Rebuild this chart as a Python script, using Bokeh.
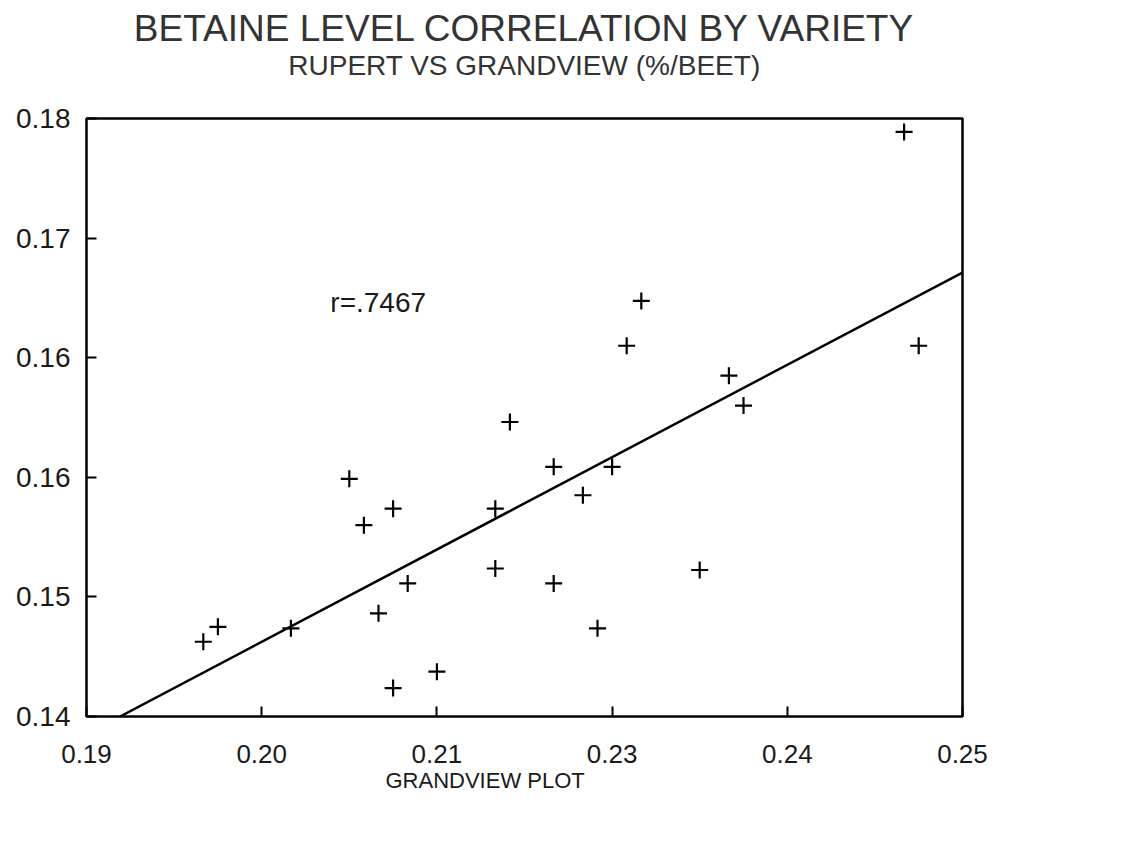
from bokeh.plotting import figure
from bokeh.models import Range1d, FixedTicker, PrintfTickFormatter, Label, Title, ColumnDataSource
from bokeh.embed import file_html
from bokeh.resources import INLINE

# ---- text ----
title_text = "BETAINE LEVEL CORRELATION BY VARIETY"
subtitle_text = "RUPERT VS GRANDVIEW (%/BEET)"
x_title_text = "GRANDVIEW PLOT"
r_text = "r=.7467"

# ---- data ----
grandview = [0.198, 0.199, 0.204, 0.208, 0.209, 0.210, 0.211, 0.211, 0.212, 0.214,
             0.218, 0.218, 0.219, 0.222, 0.222, 0.224, 0.225, 0.226, 0.227, 0.228,
             0.232, 0.234, 0.235, 0.246, 0.247]
rupert = [0.1450, 0.1460, 0.1459, 0.1559, 0.1528, 0.1469, 0.1539, 0.1419, 0.1489, 0.1430,
          0.1539, 0.1499, 0.1597, 0.1567, 0.1489, 0.1548, 0.1459, 0.1567, 0.1648, 0.1678,
          0.1498, 0.1628, 0.1608, 0.1791, 0.1648]

# regression line end points
fit_x = [0.1923, 0.25]
fit_y = [0.14, 0.1697]

# axes
x_ticks = [0.19, 0.202, 0.214, 0.226, 0.238, 0.25]
x_tick_labels = ["0.19", "0.20", "0.21", "0.23", "0.24", "0.25"]
y_ticks = [0.14, 0.148, 0.156, 0.164, 0.172, 0.18]
y_tick_labels = ["0.14", "0.15", "0.16", "0.16", "0.17", "0.18"]
x_lo, x_hi = 0.19, 0.25
y_lo, y_hi = 0.14, 0.18

FONT = "Liberation Sans"
INK = "#1a1a1a"

p = figure(frame_width=876, frame_height=598,
           x_range=Range1d(x_lo, x_hi), y_range=Range1d(y_lo, y_hi),
           output_backend="svg", toolbar_location=None,
           min_border_left=86, min_border_right=40,
           min_border_top=118, min_border_bottom=20)

p.background_fill_color = "white"
p.border_fill_color = "white"
p.outline_line_color = "black"
p.outline_line_width = 2.5
p.outline_line_alpha = 1.0
p.grid.visible = False

for ax, ticks, labels, size in ((p.xaxis[0], x_ticks, x_tick_labels, "26px"),
                                (p.yaxis[0], y_ticks, y_tick_labels, "28px")):
    ax.ticker = FixedTicker(ticks=ticks)
    ax.formatter = PrintfTickFormatter(format="%.2f")
    ax.major_label_overrides = {t: l for t, l in zip(ticks, labels)}
    ax.axis_line_color = None
    ax.major_tick_in = 10
    ax.major_tick_out = 0
    ax.major_tick_line_color = "black"
    ax.major_tick_line_width = 2
    ax.minor_tick_line_color = None
    ax.major_label_text_font = FONT
    ax.major_label_text_font_size = size
    ax.major_label_text_color = INK

p.xaxis[0].major_label_standoff = 28
p.yaxis[0].major_label_standoff = 16

src = ColumnDataSource(dict(x=grandview, y=rupert))
p.line(fit_x, fit_y, line_color="black", line_width=2.5)
p.scatter("x", "y", source=src, marker="cross", size=17,
          line_color="black", line_width=2.2)

# titles: subtitle first (closest to the frame), with an empty second line
# that keeps the gap below it; then the main title on top
p.add_layout(Title(text=subtitle_text + "\n\u00a0", align="center", text_font=FONT,
                   text_font_size="28px", text_font_style="normal",
                   text_line_height=1.2,
                   text_color="#333333", standoff=0), "above")
p.add_layout(Title(text=title_text, align="center", text_font=FONT,
                   text_font_size="37px", text_font_style="normal",
                   text_color="#333333", standoff=0), "above")

# x-axis title below the axis (left aligned, shifted to where it sits)
p.add_layout(Title(text=x_title_text, align="left", offset=299, text_font=FONT,
                   text_font_size="22px", text_font_style="normal",
                   text_color=INK, standoff=0), "below")

# correlation annotation
p.add_layout(Label(x=0.2067, y=0.1677, text=r_text, text_align="left",
                   text_baseline="middle", text_font=FONT,
                   text_font_size="28px", text_color=INK))

open("out.html", "w").write(file_html(p, INLINE))
